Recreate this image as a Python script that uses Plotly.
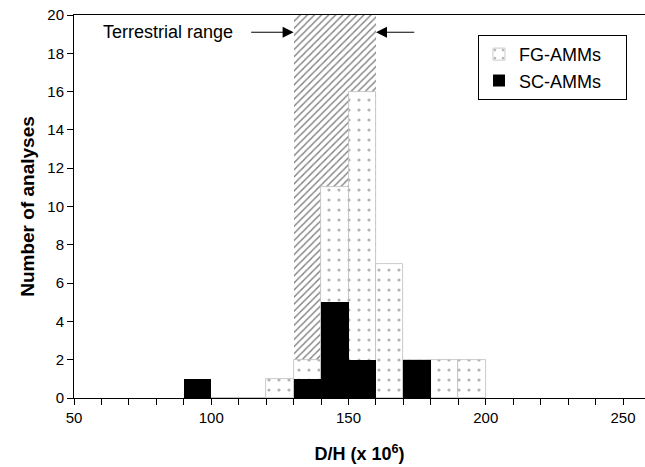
import plotly.graph_objects as go

# ---- data ----
BIN_STARTS = [90, 100, 110, 120, 130, 140, 150, 160, 170, 180, 190]
BIN_WIDTH = 10
FG_COUNTS = [0, 0, 0, 1, 2, 11, 16, 7, 2, 2, 2]
SC_COUNTS = [1, 0, 0, 0, 1, 5, 2, 0, 2, 0, 0]
TERR_RANGE = [130, 160]
TERR_BASE = 2
TERR_TOP = 20
X_TICKS = [50, 100, 150, 200, 250]
Y_TICKS = list(range(0, 21, 2))

centers = [s + BIN_WIDTH / 2 for s in BIN_STARTS]
FONT = "Liberation Sans, Arial, sans-serif"
PAD = "\u00a0" * 4

fig = go.Figure()

# terrestrial range hatched region
fig.add_trace(go.Bar(
    x=[(TERR_RANGE[0] + TERR_RANGE[1]) / 2],
    y=[TERR_TOP - TERR_BASE],
    base=[TERR_BASE],
    width=[TERR_RANGE[1] - TERR_RANGE[0]],
    marker=dict(color="white", line=dict(width=0),
                pattern=dict(shape="/", fgcolor="black", bgcolor="white",
                             size=5, solidity=0.28)),
    showlegend=False, hoverinfo="skip",
))

fig.add_trace(go.Bar(
    x=centers, y=FG_COUNTS, width=BIN_WIDTH, name="FG-AMMs" + PAD,
    marker=dict(color="white", line=dict(width=0.8, color="#bbb"),
                pattern=dict(shape=".", fgcolor="#666", bgcolor="white",
                             size=10, solidity=0.08)),
))

fig.add_trace(go.Bar(
    x=centers, y=SC_COUNTS, width=BIN_WIDTH, name="SC-AMMs" + PAD,
    marker=dict(color="black", line=dict(width=0)),
))

fig.add_annotation(x=TERR_RANGE[0], y=19.1, ax=114, ay=19.1,
                   xref="x", yref="y", axref="x", ayref="y",
                   showarrow=True, arrowhead=2, arrowsize=2.2, arrowwidth=1,
                   arrowcolor="black", text="")
fig.add_annotation(x=TERR_RANGE[1], y=19.1, ax=174.5, ay=19.1,
                   xref="x", yref="y", axref="x", ayref="y",
                   showarrow=True, arrowhead=2, arrowsize=2.2, arrowwidth=1,
                   arrowcolor="black", text="")
fig.add_annotation(x=108.6, y=19.1, xref="x", yref="y", text="Terrestrial range",
                   showarrow=False, xanchor="right",
                   font=dict(family=FONT, size=18, color="black"))

fig.update_layout(
    width=645, height=467,
    margin=dict(l=74, r=0, t=15, b=69),
    barmode="overlay", bargap=0,
    plot_bgcolor="white", paper_bgcolor="white",
    font=dict(family=FONT, size=14, color="black"),
    legend=dict(x=0.7075, y=0.948, xanchor="left", yanchor="top",
                bordercolor="black", borderwidth=1, bgcolor="white",
                font=dict(family=FONT, size=18),
                tracegroupgap=4, itemwidth=30),
    xaxis=dict(range=[50, 258], tickvals=X_TICKS, ticks="outside", ticklen=6,
               tickwidth=1, tickcolor="black", showline=True, linecolor="black",
               linewidth=1, mirror=True, showgrid=False, zeroline=False,
               automargin=False,
               minor=dict(dtick=10, ticks="outside", ticklen=6, tickcolor="black"),
               title=dict(text="<b>D/H (x 10<sup>6</sup>)</b>",
                          font=dict(family=FONT, size=18), standoff=22),
               tickfont=dict(family=FONT, size=15)),
    yaxis=dict(range=[0, 20], tickvals=Y_TICKS, ticks="outside", ticklen=6,
               tickwidth=1, tickcolor="black", showline=True, linecolor="black",
               linewidth=1, showgrid=False, zeroline=False,
               automargin=False,
               title=dict(text="<b>Number of analyses</b>",
                          font=dict(family=FONT, size=19), standoff=7),
               tickfont=dict(family=FONT, size=15)),
)

fig.write_html("out.html", config={"displayModeBar": False},
               post_script="document.body.style.margin='0px';")
